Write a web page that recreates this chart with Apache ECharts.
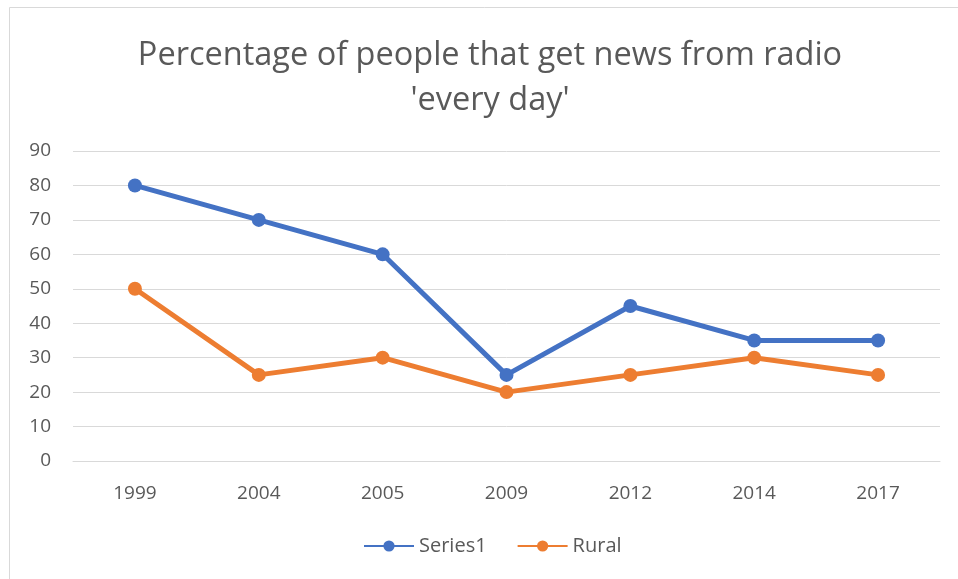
<!DOCTYPE html>
<html><head><meta charset="utf-8">
<script src="https://cdn.jsdelivr.net/npm/echarts@6/dist/echarts.min.js"></script>
<style>html,body{margin:0;padding:0;background:#fff}#c{width:958px;height:579px}</style>
</head><body><div id="c"></div>
<script>
const categories = ['1999','2004','2005','2009','2012','2014','2017'];
const series1 = [80,70,60,25,45,35,35];
const rural = [50,25,30,20,25,30,25];
const yTicks = {min:0,max:90,interval:10};
const titleLines = ['Percentage of people that get news from radio', "'every day'"];
const FONT = '"Open Sans", "Noto Sans", sans-serif';
const titleStyle = {fontFamily:FONT,fontSize:32.5,fontWeight:'normal',color:'#595959'};
const chart = echarts.init(document.getElementById('c'));
chart.setOption({
  animation:false,
  backgroundColor:'#fff',
  graphic:[{type:'rect',shape:{x:9.5,y:7.5,width:960,height:600},style:{fill:'none',stroke:'#d9d9d9',lineWidth:1}}],
  title:[
    {text:titleLines[0],left:490,textAlign:'center',top:39,padding:0,textStyle:titleStyle},
    {text:titleLines[1],left:490,textAlign:'center',top:84,padding:0,textStyle:titleStyle}
  ],
  legend:{bottom:18,left:358,itemWidth:50,itemHeight:14,itemGap:30,
    textStyle:{fontFamily:FONT,fontSize:20,color:'#595959',padding:[0,0,0,0]},
    data:['Series1','Rural']},
  grid:{left:73,right:18,top:151,bottom:118},
  xAxis:{type:'category',data:categories,boundaryGap:true,
    axisLine:{show:true,lineStyle:{color:'#d9d9d9',width:1}},axisTick:{show:false},
    axisLabel:{fontFamily:FONT,fontSize:19,color:'#595959',margin:23}},
  yAxis:{type:'value',min:yTicks.min,max:yTicks.max,interval:yTicks.interval,
    axisLine:{show:false},axisTick:{show:false},
    splitLine:{lineStyle:{color:'#d9d9d9',width:1}},
    axisLabel:{fontFamily:FONT,fontSize:19,color:'#595959',margin:22}},
  series:[
    {name:'Series1',type:'line',data:series1,symbol:'circle',symbolSize:14,
     lineStyle:{width:5,color:'#4472c4'},itemStyle:{color:'#4472c4'}},
    {name:'Rural',type:'line',data:rural,symbol:'circle',symbolSize:14,
     lineStyle:{width:5,color:'#ed7d31'},itemStyle:{color:'#ed7d31'}}
  ]
});
</script></body></html>
